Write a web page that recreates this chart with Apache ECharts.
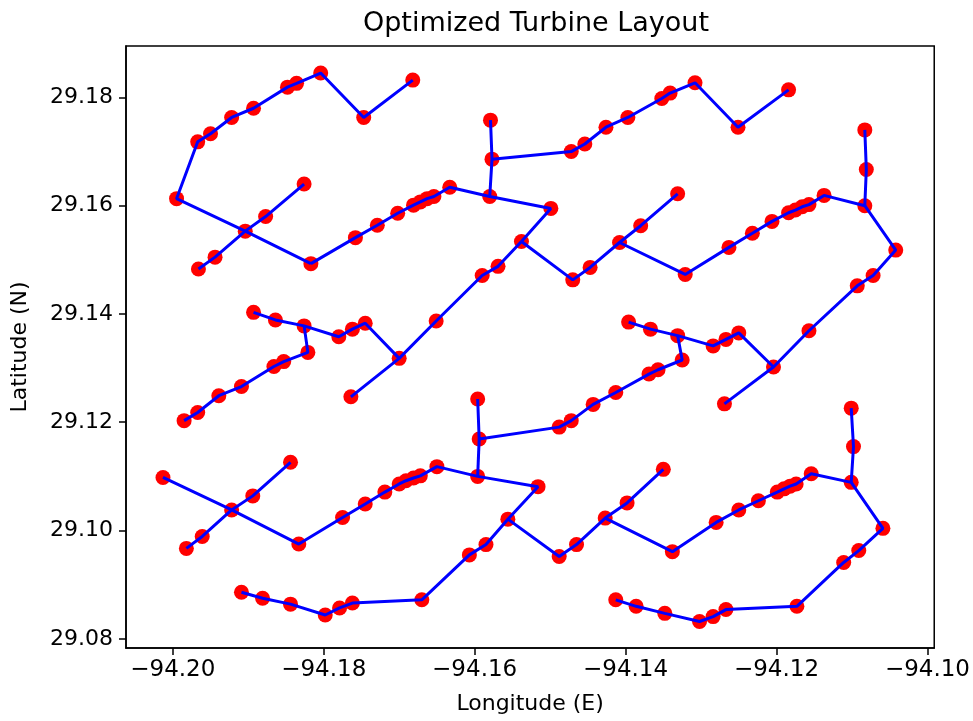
<!DOCTYPE html>
<html>
<head>
<meta charset="utf-8">
<script src="https://cdn.jsdelivr.net/npm/echarts@6/dist/echarts.min.js"></script>
<style>html,body{margin:0;padding:0;background:#fff;}#chart{width:973px;height:721px;}</style>
</head>
<body>
<div id="chart"></div>
<script>
var chartTitle = 'Optimized Turbine Layout';
var xAxisName = 'Longitude (E)';
var yAxisName = 'Latitude (N)';
var xTicks = [-94.20, -94.18, -94.16, -94.14, -94.12, -94.10];
var yTicks = [29.08, 29.10, 29.12, 29.14, 29.16, 29.18];

// turbine longitudes (E)
var turbineLon = [
 -94.1995,-94.1967,-94.1950,-94.1922,-94.1893,-94.1848,-94.1836,-94.1804,-94.1747,-94.1682,
 -94.1826,-94.1877,-94.1904,-94.1944,-94.1966,
 -94.1817,-94.1758,-94.1729,-94.1702,-94.1681,-94.1672,-94.1663,-94.1654,-94.1633,-94.1580,
 -94.1577,-94.1579,-94.1472,-94.1454,-94.1426,-94.1397,-94.1352,-94.1341,-94.1308,-94.1251,-94.1184,
 -94.1499,-94.1538,-94.1470,-94.1447,-94.1408,-94.1380,-94.1331,-94.1321,-94.1263,-94.1232,
 -94.1206,-94.1184,-94.1175,-94.1166,-94.1157,-94.1137,-94.1083,-94.1081,-94.1083,-94.1042,
 -94.1072,-94.1093,-94.1157,-94.1204,-94.1269,-94.1250,-94.1267,-94.1284,-94.1331,-94.1367,
 -94.1396,-94.1325,-94.1357,-94.1369,-94.1413,-94.1443,-94.1472,-94.1488,-94.1594,-94.1596,-94.1596,
 -94.1569,-94.1590,-94.1651,-94.1700,-94.1764,-94.1745,-94.1762,-94.1780,-94.1826,-94.1864,-94.1893,
 -94.1821,-94.1853,-94.1866,-94.1909,-94.1939,-94.1967,-94.1985,
 -94.2013,-94.1922,-94.1833,-94.1775,-94.1745,-94.1719,-94.1700,-94.1691,-94.1681,-94.1672,-94.1650,
 -94.1516,-94.1556,-94.1585,-94.1607,-94.1670,-94.1762,-94.1779,-94.1798,-94.1844,-94.1881,-94.1909,
 -94.1844,-94.1894,-94.1961,-94.1982,
 -94.1488,-94.1465,-94.1427,-94.1398,-94.1350,-94.1338,-94.1280,-94.1250,-94.1224,-94.1199,-94.1190,
 -94.1182,-94.1174,-94.1154,-94.1101,-94.1098,-94.1101,-94.1059,-94.1091,-94.1111,-94.1173,-94.1267,
 -94.1284,-94.1302,-94.1348,-94.1386,-94.1413
];
// turbine latitudes (N)
var turbineLat = [
 29.1613,29.1718,29.1733,29.1763,29.1780,29.1819,29.1826,29.1845,29.1763,29.1832,
 29.1640,29.1580,29.1553,29.1505,29.1483,
 29.1493,29.1541,29.1564,29.1586,29.1601,29.1607,29.1613,29.1617,29.1634,29.1617,
 29.1686,29.1758,29.1700,29.1714,29.1745,29.1763,29.1798,29.1808,29.1827,29.1745,29.1814,
 29.1595,29.1534,29.1463,29.1486,29.1532,29.1563,29.1622,29.1473,29.1523,29.1549,
 29.1571,29.1587,29.1592,29.1598,29.1602,29.1619,29.1600,29.1667,29.1740,29.1518,
 29.1471,29.1452,29.1369,29.1302,29.1234,29.1365,29.1353,29.1341,29.1360,29.1372,
 29.1385,29.1315,29.1297,29.1289,29.1255,29.1233,29.1203,29.1191,29.1169,29.1243,29.1100,
 29.1488,29.1471,29.1387,29.1318,29.1247,29.1383,29.1372,29.1358,29.1378,29.1389,29.1403,
 29.1329,29.1312,29.1303,29.1266,29.1249,29.1218,29.1203,
 29.1098,29.1038,29.0975,29.1024,29.1049,29.1071,29.1086,29.1092,29.1097,29.1101,29.1118,
 29.1081,29.1021,29.0974,29.0955,29.0872,29.0866,29.0857,29.0844,29.0864,29.0875,29.0886,
 29.1126,29.1064,29.0989,29.0967,
 29.0952,29.0974,29.1023,29.1051,29.1113,29.0961,29.1015,29.1038,29.1055,29.1071,29.1077,
 29.1082,29.1086,29.1105,29.1089,29.1155,29.1226,29.1004,29.0963,29.0941,29.0860,29.0854,
 29.0841,29.0832,29.0847,29.0860,29.0872
];
// cable paths as sequences of turbine indices
var cablePaths = [
 [9,8,7,6,5,4,3,2,1,0,12,15],
 [10,11,12,13,14],
 [15,16,17,18,19,20,21,22,23,24,36,37],
 [24,25,26],
 [25,27,28,29,30,31,32,33,34,35],
 [37,38,39,40,41,42],
 [40,43,44,45,46,47,48,49,50,51,52,53,54],
 [52,55,56,57,58,59,60],
 [59,61,62,63,64,65,66],
 [64,67,68,69,70,71,72,73,74,75],
 [74,76],
 [37,77,78,79,80,81],
 [80,82,83,84,85,86,87],
 [85,88,89,90,91,92,93,94],
 [95,96,97,98,99,100,101,102,103,104,105,76,106,107,108,109,110,111,112,113,114,115,116],
 [117,118,96,119,120],
 [107,121,122,123,124,125],
 [123,126,127,128,129,130,131,132,133,134,135,136,137],
 [135,138,139,140,141,142,143,144,145,146,147]
];

var FONT = 'DejaVu Sans';
function fmt(v){ var s = Math.abs(v).toFixed(2); return (v < 0 ? '\u2212' : '') + s; }

var points = turbineLon.map(function(x, i){ return [x, turbineLat[i]]; });
var series = [{
  type: 'scatter',
  data: points,
  symbol: 'circle',
  symbolSize: 15,
  itemStyle: { color: '#ff0000', opacity: 1 },
  z: 2,
  silent: true
}];
cablePaths.forEach(function(path){
  series.push({
    type: 'line',
    data: path.map(function(i){ return [turbineLon[i], turbineLat[i]]; }),
    showSymbol: false,
    symbol: 'none',
    lineStyle: { color: '#0000ff', width: 3 },
    z: 3,
    silent: true
  });
});

var chart = echarts.init(document.getElementById('chart'), null, { renderer: 'canvas' });
chart.setOption({
  animation: false,
  backgroundColor: '#ffffff',
  title: {
    text: chartTitle,
    left: 531, top: 5, textAlign: 'center',
    textStyle: { fontFamily: FONT, fontSize: 27, fontWeight: 'normal', color: '#000' }
  },
  grid: { left: 126, right: 37, top: 46, bottom: 73, show: true, borderColor: '#000', borderWidth: 1.5, backgroundColor: '#fff' },
  xAxis: {
    type: 'value', min: -94.2062, max: -94.0991,
    name: xAxisName, nameLocation: 'middle', nameGap: 45,
    nameTextStyle: { fontFamily: FONT, fontSize: 22, color: '#000' },
    axisLine: { show: true, onZero: false, lineStyle: { color: '#000', width: 1.5 } },
    axisTick: { show: true, length: 7, customValues: xTicks, lineStyle: { color: '#000', width: 1.5 } },
    axisLabel: { customValues: xTicks, formatter: fmt, margin: 11, fontFamily: FONT, fontSize: 23, color: '#000' },
    splitLine: { show: false }
  },
  yAxis: {
    type: 'value', min: 29.0783, max: 29.1895,
    name: yAxisName, nameLocation: 'middle', nameGap: 95, nameRotate: 90,
    nameTextStyle: { fontFamily: FONT, fontSize: 22, color: '#000', padding: [0, 0, 0, 0] },
    axisLine: { show: true, onZero: false, lineStyle: { color: '#000', width: 1.5 } },
    axisTick: { show: true, length: 7, customValues: yTicks, lineStyle: { color: '#000', width: 1.5 } },
    axisLabel: { customValues: yTicks, formatter: function(v){ return v.toFixed(2); }, margin: 13, fontFamily: FONT, fontSize: 22, color: '#000' },
    splitLine: { show: false }
  },
  series: series
});
</script>
</body>
</html>
